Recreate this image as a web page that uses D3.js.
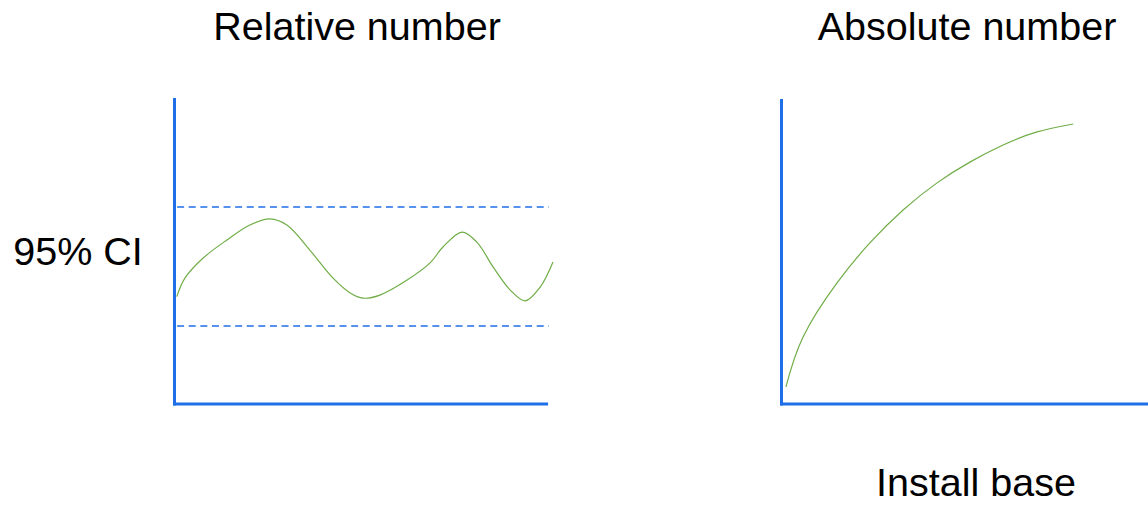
<!DOCTYPE html>
<html>
<head>
<meta charset="utf-8">
<script src="https://cdn.jsdelivr.net/npm/d3@7"></script>
<style>
    body { margin: 0; background: #fff; }
    text { font-family: "Liberation Sans", Arial, sans-serif; fill: #000; }
</style>
</head>
<body>
<svg id="mainSvg" width="1148" height="507"></svg>
<script>
// relative number: x position (0-100) and value (0-100)
const relX = [0.2, 2.4, 7.2, 13.5, 19.6, 24.9, 29.4, 35.5, 41.6, 46.2, 49.6, 54.1, 61.3, 67.4, 70.8, 75.9, 79.8, 84.1, 88.6, 92.6, 96.6, 100];
const relY = [35.1, 41.2, 47.7, 53.6, 58.5, 60.5, 58.5, 50.3, 41.2, 36.3, 34.6, 35.6, 40.5, 46.1, 51.3, 56.2, 52.9, 44.8, 37.3, 33.7, 38.2, 46.4];
// confidence band
const ciBounds = [64.4, 25.5];
// absolute number vs install base
const absX = [0.8, 5.5, 14.8, 23.8, 32.9, 42.2, 51.2, 60.3, 69.6, 79.5];
const absY = [5.6, 22, 39.7, 52.8, 63.6, 72.5, 79.3, 84.9, 89.2, 91.8];

const titles = ["Relative number", "Absolute number"];
const yLabel = "95% CI", xLabel = "Install base";

let svg = d3.select('#mainSvg');
const axisColor = "#1f6fe8", lineColor = "#70ad47";
const fontSize = 39.5;

// left panel scales
const xRel = d3.scaleLinear().domain([0, 100]).range([176, 553]);
const yRel = d3.scaleLinear().domain([0, 100]).range([404, 98]);
// right panel scales
const xAbs = d3.scaleLinear().domain([0, 100]).range([783, 1148]);
const yAbs = d3.scaleLinear().domain([0, 100]).range([404, 99]);

function drawAxes(x, y, xEnd) {
    svg.append("line")
        .attr("x1", x(0) - 1.5).attr("x2", x(0) - 1.5)
        .attr("y1", y(100)).attr("y2", y(0) + 1.5)
        .attr("stroke", axisColor).attr("stroke-width", 3);
    svg.append("line")
        .attr("x1", x(0) - 3).attr("x2", x(xEnd))
        .attr("y1", y(0)).attr("y2", y(0))
        .attr("stroke", axisColor).attr("stroke-width", 3);
}

drawAxes(xRel, yRel, 98.7);
drawAxes(xAbs, yAbs, 100);

// CI dashed lines
svg.selectAll(".ci").data(ciBounds).join("line")
    .attr("class", "ci")
    .attr("x1", xRel(0.3)).attr("x2", xRel(98.9))
    .attr("y1", d => yRel(d)).attr("y2", d => yRel(d))
    .attr("stroke", axisColor).attr("stroke-width", 1.5)
    .attr("stroke-dasharray", "7,4.6");

const relData = relX.map((v, i) => [v, relY[i]]);
const absData = absX.map((v, i) => [v, absY[i]]);

svg.append("path")
    .datum(relData)
    .attr("fill", "none").attr("stroke", lineColor).attr("stroke-width", 1.2)
    .attr("d", d3.line().x(d => xRel(d[0])).y(d => yRel(d[1])).curve(d3.curveCatmullRom.alpha(0.5)));

svg.append("path")
    .datum(absData)
    .attr("fill", "none").attr("stroke", lineColor).attr("stroke-width", 1.2)
    .attr("d", d3.line().x(d => xAbs(d[0])).y(d => yAbs(d[1])).curve(d3.curveNatural));

// texts
svg.append("text").text(titles[0])
    .attr("x", 357).attr("y", 40)
    .attr("text-anchor", "middle").attr("font-size", fontSize);
svg.append("text").text(titles[1])
    .attr("x", 967).attr("y", 40)
    .attr("text-anchor", "middle").attr("font-size", fontSize);
svg.append("text").text(yLabel)
    .attr("x", 78).attr("y", 265)
    .attr("text-anchor", "middle").attr("font-size", fontSize);
svg.append("text").text(xLabel)
    .attr("x", 976).attr("y", 496)
    .attr("text-anchor", "middle").attr("font-size", fontSize);
</script>
</body>
</html>
